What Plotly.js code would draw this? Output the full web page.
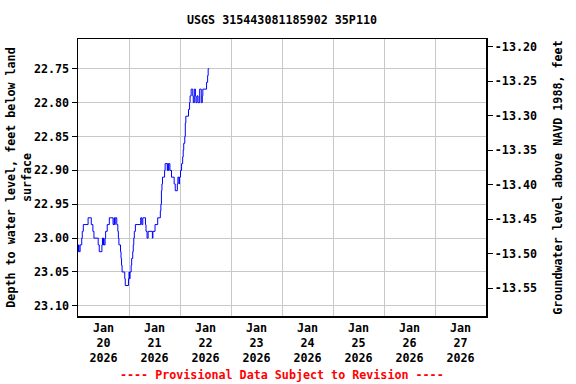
<!DOCTYPE html>
<html>
<head>
<meta charset="utf-8">
<script src="https://cdn.plot.ly/plotly-3.0.1.min.js"></script>
<style>html,body{margin:0;padding:0;background:#fff;}#chart{width:576px;height:384px;}</style>
</head>
<body>
<div id="chart"></div>
<script>
// Observation times (step changes) and depth to water level, feet below land surface
var times = [
'2026-01-20 00:00','2026-01-20 00:15','2026-01-20 00:30','2026-01-20 01:00','2026-01-20 01:45',
'2026-01-20 02:00','2026-01-20 02:30','2026-01-20 04:45','2026-01-20 06:15','2026-01-20 07:00',
'2026-01-20 07:30','2026-01-20 09:30','2026-01-20 10:00','2026-01-20 11:15','2026-01-20 11:30',
'2026-01-20 11:45','2026-01-20 12:00','2026-01-20 12:15','2026-01-20 12:45','2026-01-20 13:00',
'2026-01-20 13:45','2026-01-20 14:45','2026-01-20 16:30','2026-01-20 17:00','2026-01-20 17:15',
'2026-01-20 17:30','2026-01-20 18:15','2026-01-20 18:45','2026-01-20 19:00','2026-01-20 19:15',
'2026-01-20 20:00','2026-01-20 20:15','2026-01-20 20:30','2026-01-20 20:45','2026-01-20 22:00',
'2026-01-20 22:15','2026-01-20 23:45','2026-01-21 00:00','2026-01-21 00:15','2026-01-21 00:30',
'2026-01-21 01:00','2026-01-21 01:15','2026-01-21 01:45','2026-01-21 02:00','2026-01-21 02:15',
'2026-01-21 02:30','2026-01-21 03:00','2026-01-21 05:30','2026-01-21 06:00','2026-01-21 06:30',
'2026-01-21 07:45','2026-01-21 08:00','2026-01-21 08:30','2026-01-21 09:00','2026-01-21 11:00',
'2026-01-21 11:15','2026-01-21 12:15','2026-01-21 13:30','2026-01-21 14:45','2026-01-21 15:00',
'2026-01-21 15:15','2026-01-21 15:30','2026-01-21 15:45','2026-01-21 16:45','2026-01-21 17:00',
'2026-01-21 18:00','2026-01-21 18:15','2026-01-21 18:30','2026-01-21 18:45','2026-01-21 19:15',
'2026-01-21 20:00','2026-01-21 21:15','2026-01-21 21:45','2026-01-21 22:45','2026-01-21 23:00',
'2026-01-21 23:30','2026-01-21 23:45','2026-01-22 00:15','2026-01-22 00:45','2026-01-22 01:15',
'2026-01-22 01:30','2026-01-22 01:45','2026-01-22 02:15','2026-01-22 02:30','2026-01-22 02:45',
'2026-01-22 04:00','2026-01-22 04:30','2026-01-22 04:45','2026-01-22 05:15','2026-01-22 06:00',
'2026-01-22 06:15','2026-01-22 06:45','2026-01-22 07:15','2026-01-22 07:30','2026-01-22 08:00',
'2026-01-22 08:30','2026-01-22 09:15','2026-01-22 10:00','2026-01-22 10:30','2026-01-22 10:45',
'2026-01-22 12:30','2026-01-22 13:00','2026-01-22 13:15','2026-01-22 13:45'
];
var depth = [
23.02,23.01,23.02,23.01,23.00,
22.99,22.98,22.97,22.98,22.99,
23.00,23.01,23.02,23.01,23.00,
23.01,23.00,23.01,23.00,22.99,
22.98,22.97,22.98,22.97,22.98,
22.97,22.98,22.99,23.00,23.01,
23.02,23.03,23.04,23.05,23.06,
23.07,23.06,23.05,23.06,23.05,
23.04,23.03,23.02,23.01,23.00,
22.99,22.98,22.97,22.98,22.97,
22.98,22.99,23.00,22.99,23.00,
22.99,22.98,22.97,22.96,22.95,
22.93,22.92,22.91,22.90,22.89,
22.90,22.89,22.90,22.89,22.90,
22.91,22.92,22.93,22.92,22.91,
22.92,22.91,22.90,22.89,22.88,
22.87,22.86,22.85,22.83,22.82,
22.81,22.80,22.79,22.78,22.79,
22.80,22.78,22.79,22.80,22.79,
22.80,22.78,22.80,22.79,22.78,
22.77,22.76,22.75,22.75
];
// Axis ticks
var depthTicks = [22.75, 22.80, 22.85, 22.90, 22.95, 23.00, 23.05, 23.10];
var elevTicks = [-13.55, -13.50, -13.45, -13.40, -13.35, -13.30, -13.25, -13.20];
var dayStarts = ['2026-01-20','2026-01-21','2026-01-22','2026-01-23','2026-01-24','2026-01-25','2026-01-26','2026-01-27','2026-01-28'];
var dayLabelTimes = ['2026-01-20 12:00','2026-01-21 12:00','2026-01-22 12:00','2026-01-23 12:00','2026-01-24 12:00','2026-01-25 12:00','2026-01-26 12:00','2026-01-27 12:00'];
var dayLabels = ['Jan<br>20<br>2026','Jan<br>21<br>2026','Jan<br>22<br>2026','Jan<br>23<br>2026','Jan<br>24<br>2026','Jan<br>25<br>2026','Jan<br>26<br>2026','Jan<br>27<br>2026'];
var datumOffset = 9.514; // elevation ~ datumOffset - depth
var depthRange = [23.115, 22.706];
var elevRange = [-13.590, -13.189];

var elev = depth.map(function(d){ return datumOffset - d; });
var FONT = {family: 'DejaVu Sans Mono', size: 11.7, color: '#000', weight: 'bold'};

var traces = [
  {x: times, y: depth, type: 'scatter', mode: 'lines', line: {color: '#0000ff', width: 1, shape: 'hv'}, hoverinfo: 'skip', showlegend: false},
  {x: times, y: elev, yaxis: 'y2', type: 'scatter', mode: 'lines', line: {color: 'rgba(0,0,0,0)', width: 0, shape: 'hv'}, hoverinfo: 'skip', showlegend: false}
];

var layout = {
  width: 576, height: 384,
  margin: {l: 78, r: 90, t: 39, b: 68},
  paper_bgcolor: '#fff', plot_bgcolor: '#fff',
  font: FONT,
  showlegend: false,
  title: {text: 'USGS 315443081185902 35P110', font: FONT, x: 0.5, xref: 'paper', xanchor: 'center', y: 0.949, yref: 'container', yanchor: 'middle'},
  xaxis: {
    type: 'date',
    range: [dayStarts[0], dayStarts[dayStarts.length - 1]],
    tickmode: 'array', tickvals: dayLabelTimes, ticktext: dayLabels,
    showgrid: false, ticks: '', tickfont: FONT,
    showline: true, linecolor: '#000', linewidth: 1.5, mirror: true,
    zeroline: false,
    minor: {tickmode: 'array', tickvals: dayStarts, showgrid: true, gridcolor: '#c8c8c8', gridwidth: 1, ticks: ''}
  },
  yaxis: {
    range: depthRange,
    tickmode: 'array', tickvals: depthTicks, ticktext: depthTicks.map(function(v){ return v.toFixed(2); }),
    ticks: 'outside', ticklen: 5, tickcolor: '#000', tickfont: FONT,
    showgrid: true, gridcolor: '#c8c8c8', gridwidth: 1,
    showline: true, linecolor: '#000', linewidth: 1.5,
    zeroline: false,
    title: {text: 'Depth to water level, feet below land<br>surface', font: FONT, standoff: 0}
  },
  yaxis2: {
    overlaying: 'y', side: 'right',
    range: elevRange,
    tickmode: 'array', tickvals: elevTicks, ticktext: elevTicks.map(function(v){ return v.toFixed(2); }),
    ticks: 'outside', ticklen: 5, tickcolor: '#000', tickfont: FONT,
    showgrid: false, zeroline: false,
    showline: true, linecolor: '#000', linewidth: 1.5,
    title: {text: 'Groundwater level above NAVD 1988, feet', font: FONT, standoff: 17}
  },
  annotations: [
    {text: '---- Provisional Data Subject to Revision ----', xref: 'paper', yref: 'paper', x: 0.5, y: -0.213, xanchor: 'center', yanchor: 'middle', showarrow: false, font: {family: 'DejaVu Sans Mono', size: 11.7, color: '#ff0000', weight: 'bold'}}
  ]
};

Plotly.newPlot('chart', traces, layout, {staticPlot: true, displayModeBar: false});
</script>
</body>
</html>
